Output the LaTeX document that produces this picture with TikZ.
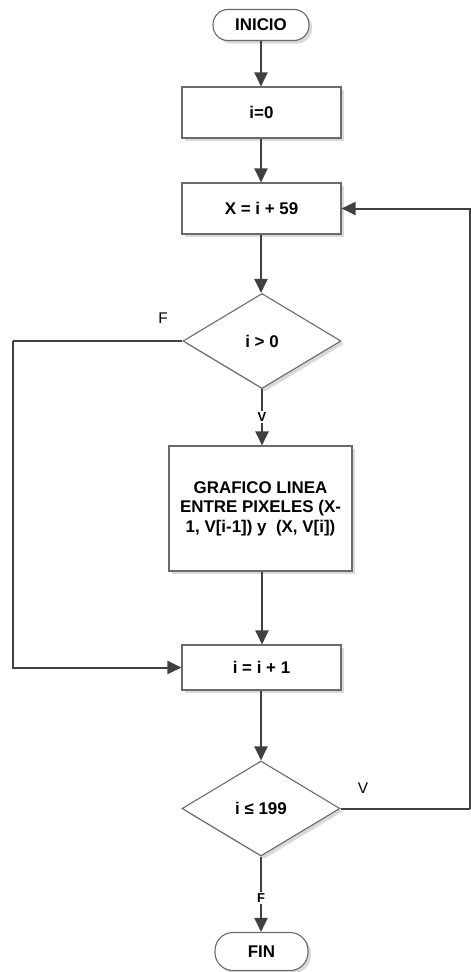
\documentclass[tikz,border=0pt]{standalone}
\usepackage{fontspec}
\setmainfont{Liberation Sans}
\usetikzlibrary{shapes.geometric,shadows,arrows.meta}
\definecolor{conn}{HTML}{404040}
\definecolor{bord}{HTML}{6A6A6A}
\definecolor{shad}{HTML}{D9D9D9}
\tikzset{
  x=1bp, y=-1bp,
  shapeshadow/.style={drop shadow={shadow xshift=3bp, shadow yshift=-3bp, fill=shad, opacity=1}},
  procbox/.style={rectangle, draw=bord, line width=1.1bp, fill=white, shapeshadow, inner sep=2bp,
    font=\fontsize{17}{19.5}\selectfont\bfseries, align=center},
  termbox/.style={procbox, rounded corners=15bp},
  decbox/.style={diamond, draw=bord, line width=1.1bp, fill=white, shapeshadow, inner sep=0pt, aspect=1.66,
    minimum width=158bp, minimum height=95bp, font=\fontsize{17}{19.5}\selectfont\bfseries},
  conector/.style={draw=conn, line width=2bp, -{Triangle[length=14bp,width=13bp]}},
  plainline/.style={draw=conn, line width=2bp},
  onlabel/.style={fill=white, inner sep=1.5bp, font=\fontsize{13}{15}\selectfont\bfseries},
  sidelabel/.style={inner sep=0pt, font=\fontsize{15.5}{17}\selectfont}
}
\begin{document}
\begin{tikzpicture}
\useasboundingbox (0,0) rectangle (471,972);
\node[termbox, minimum width=96bp, minimum height=31bp] (inicio) at (261,25) {INICIO};
\node[procbox, minimum width=159bp, minimum height=51bp] (i0) at (261.5,112.5) {i=0};
\node[procbox, minimum width=159bp, minimum height=51bp] (X) at (261.5,208.5) {X = i + 59};
\node[decbox] (d1) at (262,341) {i > 0};
\node[procbox, minimum width=183bp, minimum height=125bp] (graf) at (260.5,508.5)
  {GRAFICO LINEA\\ENTRE PIXELES (X-\\1, V[i-1]) y \ (X, V[i])};
\node[procbox, minimum width=159bp, minimum height=45bp] (i1) at (261.5,667.5) {i = i + 1};
\node[decbox] (d2) at (261,808.5) {i ≤ 199};
\node[termbox, minimum width=93bp, minimum height=38bp, rounded corners=18bp] (fin) at (261.5,951.5) {FIN};

\coordinate (L) at (13,341);
\coordinate (R) at (470,808.5);

\draw[conector] (inicio.south) -- (inicio.south |- i0.north);
\draw[conector] (i0.south -| inicio.south) -- (inicio.south |- X.north);
\draw[conector] (inicio.south |- X.south) -- (d1.north -| inicio.south);
\draw[conector] (d1.south) -- (d1.south |- graf.north) node[onlabel, pos=0.5] (v1) {V};
\draw[conector] (graf.south -| d1.south) -- (d1.south |- i1.north);
\draw[plainline] (d1.west) -- (L);
\draw[conector] (L) |- (i1.west);
\node[sidelabel] (f1) at (163,318) {F};
\draw[conector] (i1.south -| d2.north) -- (d2.north);
\draw[plainline] (d2.east) -- (R);
\draw[conector] (R) |- (X.east);
\node[sidelabel] (v2) at (363,788) {V};
\draw[conector] (d2.south) -- (d2.south |- fin.north) node[onlabel, pos=0.55] (f2) {F};
\end{tikzpicture}
\end{document}
